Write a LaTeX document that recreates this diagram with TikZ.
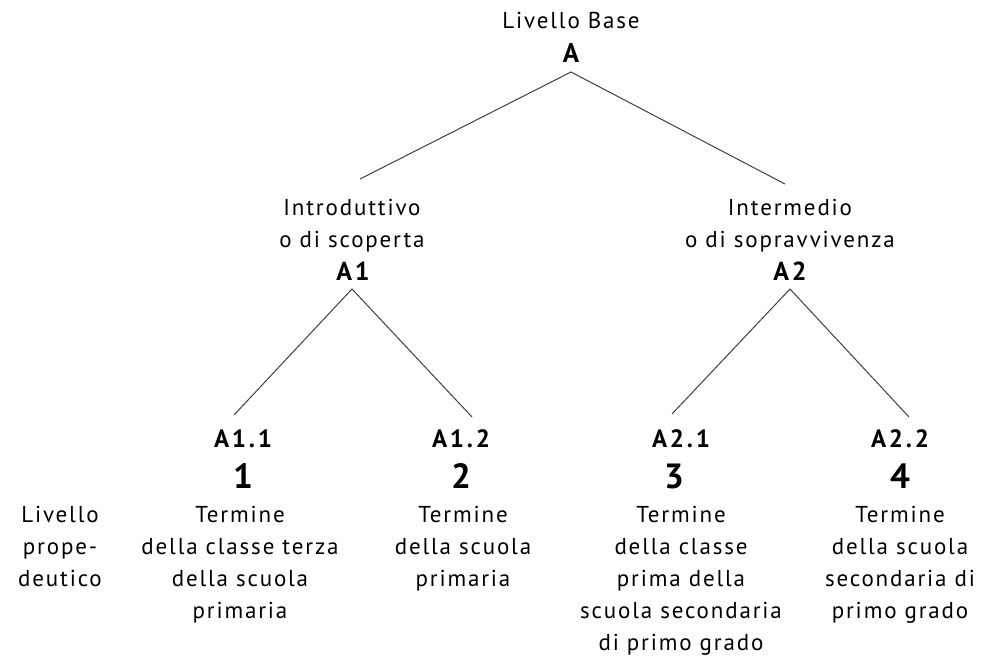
\documentclass[tikz,border=0pt]{standalone}
\usepackage{fontspec}
\setmainfont{PT Sans}[LetterSpace=8]
\begin{document}
\begin{tikzpicture}[x=1pt,y=-1pt,
  txt/.style={font=\fontsize{23}{32}\selectfont, align=center, anchor=base, inner sep=0pt, text=black},
  lab/.style={font=\fontsize{25}{26}\selectfont\bfseries\addfontfeatures{LetterSpace=11}, anchor=base, inner sep=0pt, text=black},
  num/.style={font=\fontsize{35}{36}\selectfont\bfseries, anchor=base, inner sep=0pt, text=black},
  link/.style={line width=1pt, draw=black!75}]
\useasboundingbox[fill=white] (0,0) rectangle (987,658);
% top (base anchor of a multi-line node = baseline of its last line)
\node[txt] (top) at (571,29) {Livello Base};
\node[lab, font=\fontsize{27}{28}\selectfont\bfseries] (A) at (571,63) {A};
% level 2
\node[txt] (I1) at (352,247) {Introduttivo\\o di scoperta};
\node[lab, font=\fontsize{26}{28}\selectfont\bfseries\addfontfeatures{LetterSpace=11}] (A1) at (353,280) {A1};
\node[txt] (I2) at (790,247) {Intermedio\\o di sopravvivenza};
\node[lab, font=\fontsize{26}{28}\selectfont\bfseries\addfontfeatures{LetterSpace=11}] (A2) at (790,280) {A2};
% leaves
\node[lab] (A11) at (243,447) {A1.1};
\node[lab] (A12) at (461,447) {A1.2};
\node[lab] (A21) at (681,447) {A2.1};
\node[lab] (A22) at (900,447) {A2.2};
\node[num] (n1) at (243,488) {1};
\node[num] (n2) at (461,488) {2};
\node[num] (n3) at (674,488) {3};
\node[num] (n4) at (900,488) {4};
\node[txt] (liv) at (60,586) {Livello\\prope-\\deutico};
\node[txt] (d11) at (240,618) {Termine\\della classe terza\\della scuola\\primaria};
\node[txt] (d12) at (463,586) {Termine\\della scuola\\primaria};
\node[txt] (d21) at (681,650) {Termine\\della classe\\prima della\\scuola secondaria\\di primo grado};
\node[txt] (d22) at (900,618) {Termine\\della scuola\\secondaria di\\primo grado};
% connector ends
\coordinate (A-foot) at (571,72);
\coordinate (A1-head) at (360,179);
\coordinate (A2-head) at (785,184);
\coordinate (A1-foot) at (352,289);
\coordinate (A2-foot) at (790,289);
\coordinate (A11-head) at (234,415);
\coordinate (A12-head) at (472,417);
\coordinate (A21-head) at (672,414);
\coordinate (A22-head) at (909,417);
\draw[link] (A1-head) -- (A-foot) -- (A2-head);
\draw[link] (A11-head) -- (A1-foot) -- (A12-head);
\draw[link] (A21-head) -- (A2-foot) -- (A22-head);
\end{tikzpicture}
\end{document}
